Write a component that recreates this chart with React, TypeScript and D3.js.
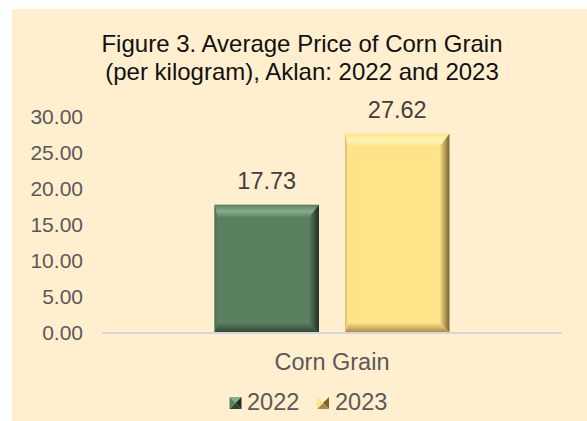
import React from "react";
import * as d3 from "d3";

const categories = ["Corn Grain"];
const seriesNames = ["2022", "2023"];
const values2022 = [17.73];
const values2023 = [27.62];
const yTicks = [0, 5, 10, 15, 20, 25, 30];
const titleLines = ["Figure 3. Average Price of Corn Grain", "(per kilogram), Aklan: 2022 and 2023"];

const W = 587;
const H = 421;
const FONT = "'Liberation Sans', Arial, Helvetica, sans-serif";

const palette = [
  { base: "#5A8060", light: "#86AD89", dark: "#2E4632", darker: "#1E2E22", left: "#4A6C50" },
  { base: "#FFE388", light: "#FFF3B8", dark: "#A8894A", darker: "#7A6330", left: "#D8BB70" },
];

function BevelRect({ x, y, w, h, c, id, b }: any) {
  const bt = Math.min(b.t, h / 2), br = Math.min(b.r, w / 2), bb = Math.min(b.b, h / 2), bl = Math.min(b.l, w / 2);
  const x2 = x + w, y2 = y + h;
  return (
    <g>
      <defs>
        <linearGradient id={id + "t"} x1="0" y1="0" x2="0" y2="1">
          <stop offset="0" stopColor={c.base} />
          <stop offset="0.5" stopColor={c.light} />
          <stop offset="1" stopColor={c.base} />
        </linearGradient>
        <linearGradient id={id + "r"} x1="0" y1="0" x2="1" y2="0">
          <stop offset="0" stopColor={c.base} />
          <stop offset="1" stopColor={c.darker} />
        </linearGradient>
        <linearGradient id={id + "b"} x1="0" y1="0" x2="0" y2="1">
          <stop offset="0" stopColor={c.base} />
          <stop offset="1" stopColor={c.dark} />
        </linearGradient>
        <linearGradient id={id + "l"} x1="0" y1="0" x2="1" y2="0">
          <stop offset="0" stopColor={c.left} />
          <stop offset="1" stopColor={c.base} />
        </linearGradient>
      </defs>
      <rect x={x} y={y} width={w} height={h} fill={c.base} />
      <polygon points={`${x},${y} ${x2},${y} ${x2 - br},${y + bt} ${x + bl},${y + bt}`} fill={`url(#${id}t)`} />
      <polygon points={`${x2},${y} ${x2},${y2} ${x2 - br},${y2 - bb} ${x2 - br},${y + bt}`} fill={`url(#${id}r)`} />
      <polygon points={`${x},${y2} ${x2},${y2} ${x2 - br},${y2 - bb} ${x + bl},${y2 - bb}`} fill={`url(#${id}b)`} />
      <polygon points={`${x},${y} ${x + bl},${y + bt} ${x + bl},${y2 - bb} ${x},${y2}`} fill={`url(#${id}l)`} />
    </g>
  );
}

function LegendSwatch({ x, y, s, c }: any) {
  const cx = x + s / 2, cy = y + s / 2;
  return (
    <g>
      <polygon points={`${x},${y} ${x + s},${y} ${cx},${cy}`} fill={c.light} />
      <polygon points={`${x + s},${y} ${x + s},${y + s} ${cx},${cy}`} fill={c.darker} />
      <polygon points={`${x},${y + s} ${x + s},${y + s} ${cx},${cy}`} fill={c.dark} />
      <polygon points={`${x},${y} ${x},${y + s} ${cx},${cy}`} fill={c.base} />
    </g>
  );
}

export default function App() {
  const plotLeft = 102, plotRight = 562, plotBottom = 332.5, plotTop = 116.5;
  const y = d3.scaleLinear().domain([0, 30]).range([plotBottom, plotTop]);
  const x0 = d3.scaleBand().domain(categories).range([plotLeft, plotRight]).paddingInner(0).paddingOuter(0.479);
  const x1 = d3.scaleBand().domain(seriesNames).range([0, x0.bandwidth()]).paddingInner(0.2).paddingOuter(0);
  const series = [values2022, values2023];
  const fmt = d3.format(".2f");

  const legendItems = [
    { name: seriesNames[0], sx: 229.5, tx: 247 },
    { name: seriesNames[1], sx: 317, tx: 335 },
  ];

  return (
    <svg width={W} height={H} style={{ position: "absolute", left: 0, top: 0 }} fontFamily={FONT}>
      <rect x={0} y={0} width={W} height={H} fill="#ffffff" />
      <rect x={12} y={9} width={W - 12} height={H - 9} fill="#FFEFCE" />
      {titleLines.map((t, i) => (
        <text key={i} x={302} y={52 + i * 28} textAnchor="middle" fontSize={24} fill="#111">
          {t}
        </text>
      ))}
      {yTicks.map((t) => (
        <text key={t} x={83} y={y(t)} dy="0.36em" textAnchor="end" fontSize={21} fill="#595959">
          {fmt(t)}
        </text>
      ))}
      {categories.map((cat, ci) =>
        series.map((vals, si) => {
          const bx = (x0(cat) as number) + (x1(seriesNames[si]) as number);
          const by = y(vals[ci]);
          const bw = x1.bandwidth();
          return (
            <g key={cat + si}>
              <BevelRect x={bx} y={by} w={bw} h={y(0) - by} c={palette[si]} id={"bar" + si + ci} b={{ t: 13, r: 10, b: 10, l: 3 }} />
              <text x={bx + bw / 2} y={by - 16} textAnchor="middle" fontSize={23.5} fill="#404040">
                {fmt(vals[ci])}
              </text>
            </g>
          );
        })
      )}
      <line x1={plotLeft} x2={plotRight} y1={y(0) + 0.5} y2={y(0) + 0.5} stroke="#D4D6DC" strokeWidth={1.8} />
      {categories.map((cat) => (
        <text key={cat} x={(x0(cat) as number) + x0.bandwidth() / 2} y={370} textAnchor="middle" fontSize={23.5} fill="#595959">
          {cat}
        </text>
      ))}
      {legendItems.map((it, i) => (
        <g key={it.name}>
          <LegendSwatch x={it.sx} y={397} s={12} c={palette[i]} />
          <text x={it.tx} y={410} fontSize={23.5} fill="#595959">
            {it.name}
          </text>
        </g>
      ))}
    </svg>
  );
}
